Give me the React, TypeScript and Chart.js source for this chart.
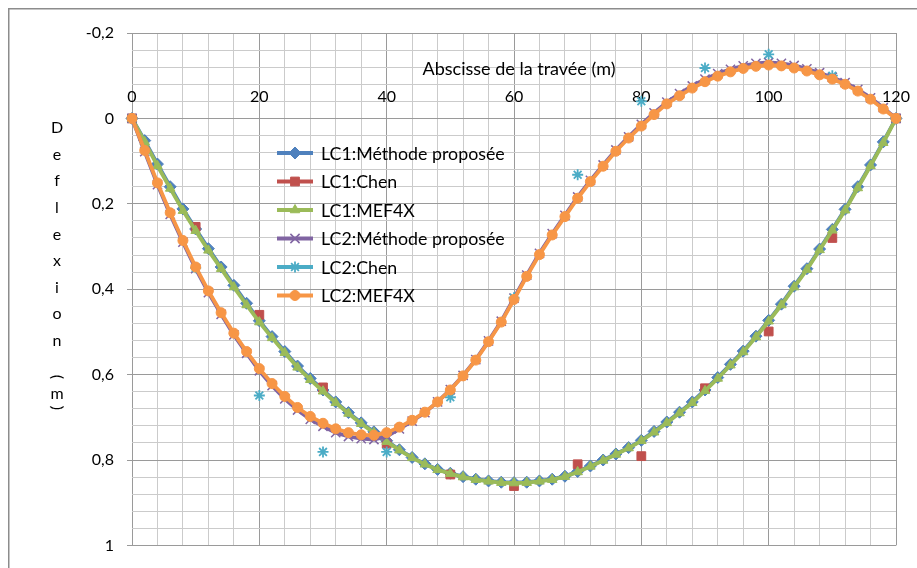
import React, { useEffect, useRef } from 'react';
import { Chart, registerables } from 'chart.js';
import { drawPoint } from 'chart.js/helpers';

Chart.register(...registerables);

// ---------- DATA ----------
const X_POS = [
  0, 2, 4, 6, 8, 10, 12, 14, 16, 18,
  20, 22, 24, 26, 28, 30, 32, 34, 36, 38,
  40, 42, 44, 46, 48, 50, 52, 54, 56, 58,
  60, 62, 64, 66, 68, 70, 72, 74, 76, 78,
  80, 82, 84, 86, 88, 90, 92, 94, 96, 98,
  100, 102, 104, 106, 108, 110, 112, 114, 116, 118,
  120,
];
const X_CHEN = [0, 10, 20, 30, 40, 50, 60, 70, 80, 90, 100, 110, 120];

const LC1_METHODE = [
  0, 0.052, 0.107, 0.160, 0.212, 0.259, 0.305, 0.348, 0.391, 0.433,
  0.474, 0.511, 0.546, 0.580, 0.609, 0.636, 0.664, 0.689, 0.713, 0.734,
  0.755, 0.776, 0.794, 0.809, 0.822, 0.831, 0.839, 0.845, 0.849, 0.852,
  0.853, 0.852, 0.849, 0.845, 0.838, 0.827, 0.814, 0.800, 0.786, 0.771,
  0.754, 0.733, 0.711, 0.688, 0.664, 0.636, 0.607, 0.576, 0.545, 0.510,
  0.473, 0.435, 0.393, 0.352, 0.306, 0.260, 0.213, 0.160, 0.109, 0.055,
  0,
];
const LC1_CHEN = [0, 0.254, 0.46, 0.63, 0.762, 0.834, 0.861, 0.81, 0.791, 0.632, 0.499, 0.28, 0];
const LC1_MEF4X = [
  0, 0.055, 0.111, 0.164, 0.216, 0.263, 0.309, 0.352, 0.395, 0.437,
  0.477, 0.514, 0.549, 0.583, 0.612, 0.639, 0.666, 0.691, 0.715, 0.736,
  0.757, 0.777, 0.795, 0.810, 0.823, 0.832, 0.840, 0.846, 0.850, 0.853,
  0.854, 0.853, 0.850, 0.846, 0.839, 0.828, 0.815, 0.801, 0.787, 0.772,
  0.755, 0.735, 0.713, 0.690, 0.666, 0.638, 0.609, 0.578, 0.547, 0.512,
  0.475, 0.437, 0.395, 0.354, 0.308, 0.262, 0.215, 0.163, 0.111, 0.057,
  0,
];
const LC2_METHODE = [
  0, 0.078, 0.155, 0.225, 0.290, 0.352, 0.408, 0.459, 0.507, 0.550,
  0.591, 0.626, 0.657, 0.683, 0.705, 0.721, 0.736, 0.745, 0.750, 0.752,
  0.745, 0.727, 0.709, 0.689, 0.664, 0.635, 0.602, 0.565, 0.521, 0.475,
  0.421, 0.367, 0.316, 0.270, 0.227, 0.184, 0.145, 0.109, 0.074, 0.043,
  0.014, -0.013, -0.038, -0.058, -0.076, -0.092, -0.105, -0.115, -0.123, -0.129,
  -0.131, -0.129, -0.124, -0.116, -0.107, -0.096, -0.084, -0.068, -0.048, -0.025,
  0,
];
const LC2_CHEN = [0, 0.35, 0.649, 0.781, 0.781, 0.653, 0.42, 0.132, -0.04, -0.118, -0.15, -0.1, 0];
const LC2_MEF4X = [
  0, 0.075, 0.151, 0.221, 0.286, 0.348, 0.404, 0.455, 0.503, 0.546,
  0.586, 0.621, 0.651, 0.677, 0.698, 0.714, 0.727, 0.736, 0.741, 0.742,
  0.736, 0.723, 0.707, 0.688, 0.664, 0.636, 0.603, 0.566, 0.523, 0.477,
  0.424, 0.370, 0.319, 0.273, 0.230, 0.187, 0.148, 0.112, 0.077, 0.046,
  0.018, -0.009, -0.034, -0.053, -0.071, -0.086, -0.099, -0.109, -0.117, -0.122,
  -0.125, -0.123, -0.118, -0.111, -0.102, -0.092, -0.080, -0.064, -0.045, -0.022,
  0,
];

const SERIES_NAMES = [
  'LC1:Méthode proposée',
  'LC1:Chen',
  'LC1:MEF4X',
  'LC2:Méthode proposée',
  'LC2:Chen',
  'LC2:MEF4X',
];

const X_TICK_VALUES = [0, 20, 40, 60, 80, 100, 120];
const X_TICK_LABELS = ['0', '20', '40', '60', '80', '100', '120'];
const Y_TICK_VALUES = [-0.2, 0, 0.2, 0.4, 0.6, 0.8, 1];
const Y_TICK_LABELS = ['-0,2', '0', '0,2', '0,4', '0,6', '0,8', '1'];

const X_TITLE = 'Abscisse de la travée (m)';
const Y_TITLE_LETTERS = ['D', 'e', 'f', 'l', 'e', 'x', 'i', 'o', 'n'];
const Y_TITLE_UNIT = ['(', 'm', ')'];

// ---------- STYLE ----------
const FONT = 'Lato, "Open Sans", sans-serif';
const MAJOR = '#9a9a9a';
const MINOR = '#cbcbcb';

const STYLES = [
  { color: '#4F81BD', pointStyle: 'rectRot', radius: 6, borderWidth: 1, line: true },
  { color: '#C0504D', pointStyle: 'rect', radius: 6.2, borderWidth: 1, line: false },
  { color: '#9BBB59', pointStyle: 'triangle', radius: 5.5, borderWidth: 1, line: true },
  { color: '#8064A2', pointStyle: 'crossRot', radius: 6.5, borderWidth: 1.5, line: true },
  { color: '#4BACC6', pointStyle: 'star', radius: 5.5, borderWidth: 1.8, line: false },
  { color: '#F79646', pointStyle: 'circle', radius: 5, borderWidth: 1, line: true },
];

const near = (v: number, list: number[]) => list.findIndex((m) => Math.abs(m - v) < 1e-6);

const toPoints = (xs: number[], ys: number[]) => xs.map((x, i) => ({ x, y: ys[i] }));

const decorPlugin = {
  id: 'decor',
  beforeDraw(chart: any) {
    const ctx = chart.ctx;
    ctx.save();
    ctx.fillStyle = '#ffffff';
    ctx.fillRect(0, 0, chart.width, chart.height);
    ctx.strokeStyle = '#8c8c8c';
    ctx.lineWidth = 1.5;
    ctx.strokeRect(8.75, 8.75, chart.width + 40, chart.height + 40);
    ctx.restore();
  },
  afterDraw(chart: any) {
    const ctx = chart.ctx;
    const area = chart.chartArea;
    const yScale = chart.scales.y;
    ctx.save();
    ctx.fillStyle = '#000000';

    // x axis title
    ctx.font = `18px ${FONT}`;
    ctx.textAlign = 'center';
    ctx.textBaseline = 'middle';
    ctx.fillText(X_TITLE, (area.left + area.right) / 2 + 5, yScale.getPixelForValue(0) - 49);

    // stacked y axis title
    ctx.font = `16px ${FONT}`;
    const cx = 57;
    Y_TITLE_LETTERS.forEach((ch, i) => {
      ctx.fillText(ch, cx, 128 + i * 26.6);
    });
    const unitY = [377, 394, 408];
    Y_TITLE_UNIT.forEach((ch, i) => {
      ctx.save();
      ctx.translate(cx, unitY[i]);
      if (ch !== 'm') ctx.rotate(Math.PI / 2);
      ctx.fillText(ch, 0, 0);
      ctx.restore();
    });

    // legend
    const lx = 277;
    const ly0 = 153;
    const step = 28.5;
    ctx.font = `17.8px ${FONT}`;
    ctx.textAlign = 'left';
    SERIES_NAMES.forEach((name, i) => {
      const st = STYLES[i];
      const y = ly0 + i * step;
      ctx.strokeStyle = st.color;
      ctx.lineWidth = 4;
      ctx.beginPath();
      ctx.moveTo(lx, y);
      ctx.lineTo(lx + 36, y);
      ctx.stroke();
      ctx.fillStyle = st.color;
      ctx.strokeStyle = st.color;
      ctx.lineWidth = st.borderWidth;
      drawPoint(ctx, { pointStyle: st.pointStyle as any, radius: st.radius, rotation: 0, borderWidth: st.borderWidth }, lx + 18, y);
      ctx.fillStyle = '#000000';
      ctx.fillText(name, lx + 44, y + 1);
    });
    ctx.restore();
  },
};

export default function App() {
  const ref = useRef<HTMLCanvasElement>(null);

  useEffect(() => {
    const series = [
      toPoints(X_POS, LC1_METHODE),
      toPoints(X_CHEN, LC1_CHEN),
      toPoints(X_POS, LC1_MEF4X),
      toPoints(X_POS, LC2_METHODE),
      toPoints(X_CHEN, LC2_CHEN),
      toPoints(X_POS, LC2_MEF4X),
    ];
    const datasets = series.map((data, i) => {
      const st = STYLES[i];
      return {
        label: SERIES_NAMES[i],
        data,
        order: 10 - i,
        showLine: st.line,
        borderColor: st.color,
        backgroundColor: st.color,
        borderWidth: 3.8,
        pointStyle: st.pointStyle,
        pointRadius: st.radius,
        pointBorderWidth: st.borderWidth,
        pointBackgroundColor: st.color,
        pointBorderColor: st.color,
        tension: 0,
        fill: false,
        clip: false,
      };
    });

    const chart = new Chart(ref.current as HTMLCanvasElement, {
      type: 'line',
      data: { datasets } as any,
      plugins: [decorPlugin],
      options: {
        animation: false,
        responsive: false,
        devicePixelRatio: 1,
        layout: { padding: { left: 0, top: 33, right: 21, bottom: 16 } },
        plugins: {
          legend: { display: false },
          tooltip: { enabled: false },
        },
        scales: {
          x: {
            type: 'linear',
            min: 0,
            max: 120,
            position: { y: 0 } as any,
            afterFit: (s: any) => {
              s.height = 0;
            },
            ticks: {
              stepSize: 4,
              autoSkip: false,
              maxRotation: 0,
              padding: -31,
              color: '#000000',
              font: { family: FONT, size: 16 },
              callback: (v: any) => {
                const k = near(Number(v), X_TICK_VALUES);
                return k >= 0 ? X_TICK_LABELS[k] : '';
              },
            },
            grid: {
              drawTicks: false,
              lineWidth: 1,
              color: (c: any) => (c.tick && near(c.tick.value, X_TICK_VALUES) >= 0 ? MAJOR : MINOR),
            },
            border: { display: false },
          },
          y: {
            type: 'linear',
            reverse: true,
            min: -0.2,
            max: 1,
            afterFit: (s: any) => {
              s.width = 132;
            },
            ticks: {
              stepSize: 0.04,
              autoSkip: false,
              padding: 13,
              color: '#000000',
              font: { family: FONT, size: 16 },
              callback: (v: any) => {
                const k = near(Number(v), Y_TICK_VALUES);
                return k >= 0 ? Y_TICK_LABELS[k] : '';
              },
            },
            grid: {
              drawTicks: true,
              tickLength: 5,
              lineWidth: 1,
              color: (c: any) => (c.tick && near(c.tick.value, Y_TICK_VALUES) >= 0 ? MAJOR : MINOR),
              tickColor: (c: any) =>
                c.tick && near(c.tick.value, Y_TICK_VALUES) >= 0 ? MAJOR : 'rgba(0,0,0,0)',
            },
            border: { display: false },
          },
        },
      } as any,
    });
    return () => chart.destroy();
  }, []);

  return (
    <div style={{ position: 'fixed', left: 0, top: 0, width: 917, height: 568, background: '#ffffff' }}>
      <canvas ref={ref} width={917} height={568} style={{ display: 'block', width: 917, height: 568 }} />
    </div>
  );
}
